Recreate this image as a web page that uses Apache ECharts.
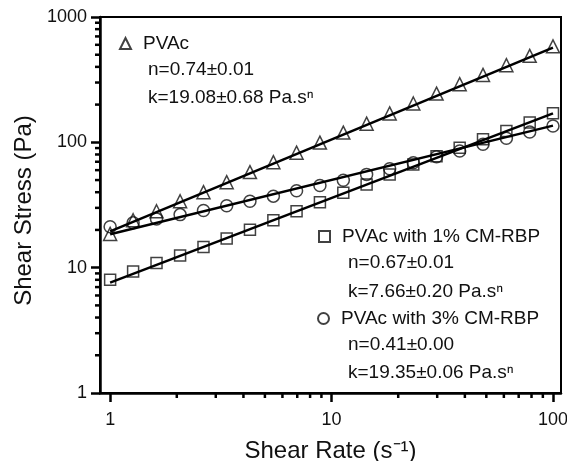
<!DOCTYPE html>
<html><head><meta charset="utf-8">
<script src="https://cdn.jsdelivr.net/npm/echarts@6/dist/echarts.min.js"></script>
<style>html,body{margin:0;padding:0;background:#fff}#c{width:567px;height:461px}</style>
</head><body><div id="c"></div>
<script>
const shearRate = [1, 1.27, 1.62, 2.07, 2.64, 3.36, 4.28, 5.46, 6.95, 8.86, 11.3, 14.4, 18.3, 23.4, 29.8, 37.9, 48.3, 61.6, 78.5, 100];
const stressPVAc = [18.6, 23.9, 28.2, 33.9, 40.0, 48.1, 57.9, 69.5, 82.7, 99.5, 119.6, 141, 170, 204, 245, 291, 345, 413, 490, 583];
const stress1 = [8.02, 9.33, 10.9, 12.5, 14.6, 17.1, 20.1, 23.9, 28.2, 33.3, 39.6, 46.1, 55.5, 66.7, 77.6, 90.7, 105.7, 123, 144, 171];
const stress3 = [21.2, 22.8, 24.5, 26.5, 28.6, 31.2, 33.9, 37.2, 41.1, 45.3, 49.9, 55.5, 61.6, 68.8, 76.8, 85.2, 96.4, 107.7, 120.8, 135];
const fitRate = [1, 100];
const fitPVAc = [19.5, 570];
const fit1 = [7.6, 170];
const fit3 = [18.5, 136];
const xRange = [0.9, 108.7];
const yRange = [1, 1000];
const xMajorTicks = [1, 10, 100];
const xMinorTicks = [2, 3, 4, 5, 6, 7, 8, 9, 20, 30, 40, 50, 60, 70, 80, 90];
const yMajorTicks = [1, 10, 100, 1000];
const yMinorTicks = [2, 3, 4, 5, 6, 7, 8, 9, 20, 30, 40, 50, 60, 70, 80, 90, 200, 300, 400, 500, 600, 700, 800, 900];
const seriesNames = ['PVAc', 'PVAc with 1% CM-RBP', 'PVAc with 3% CM-RBP'];
const annotationLines = ['n=0.74\u00b10.01', 'k=19.08\u00b10.68 Pa.s\u207f', 'n=0.67\u00b10.01', 'k=7.66\u00b10.20 Pa.s\u207f', 'n=0.41\u00b10.00', 'k=19.35\u00b10.06 Pa.s\u207f'];

const FONT = '"Liberation Sans", Arial, Helvetica, sans-serif';
const INK = '#111';
const zip = (xs, ys) => xs.map((x, i) => [x, ys[i]]);

const chart = echarts.init(document.getElementById('c'), null, {renderer: 'canvas'});

const hollow = {color: 'rgba(0,0,0,0)', borderColor: INK, borderWidth: 1.5};
function fitSeries(data) {
  return {type: 'line', data: zip(fitRate, data), showSymbol: false, symbol: 'none', silent: true,
    lineStyle: {color: '#000', width: 2.5}, z: 4, animation: false, legendHoverLink: false};
}
function legendAt(name, left, top) {
  return {data: [name], left: left, top: top, padding: 0, itemWidth: 11, itemHeight: 11, selectedMode: false,
    orient: 'horizontal', textStyle: {fontSize: 19, fontFamily: FONT, color: INK, padding: [0, 0, 0, 7]}};
}
function annot(text, x, y) {
  return {type: 'text', x: x, y: y, silent: true,
    style: {text: text, fontSize: 19, fontFamily: FONT, fill: INK, verticalAlign: 'middle', align: 'left'}};
}
// minor log-axis tick marks, placed through the axes' own scales (outward)
function minorTickSeries(name, values, dim, len) {
  return {
    name: name, type: 'scatter', silent: true, clip: false, z: 6, animation: false, legendHoverLink: false,
    symbol: 'rect',
    symbolSize: dim === 'x' ? [2.5, len] : [len, 2.5],
    symbolOffset: dim === 'x' ? [0, len / 2] : [-len / 2, 0],
    itemStyle: {color: '#000', opacity: 1},
    data: values.map(v => dim === 'x' ? [v, yRange[0]] : [xRange[0], v])
  };
}

const option = {
  backgroundColor: '#fff',
  animation: false,
  grid: {left: 100, right: 6, top: 17, bottom: 68, show: true, borderColor: '#000', borderWidth: 2,
    backgroundColor: 'transparent', containLabel: false, outerBoundsMode: 'none'},
  legend: [
    legendAt(seriesNames[0], 119, 34),
    legendAt(seriesNames[1], 318, 227),
    legendAt(seriesNames[2], 317, 309)
  ],
  xAxis: {type: 'log', logBase: 10, min: xRange[0], max: xRange[1], position: 'bottom',
     axisLine: {show: true, lineStyle: {color: '#000', width: 2.5}},
     axisTick: {show: true, customValues: xMajorTicks, length: 9, inside: false, lineStyle: {color: '#000', width: 2.5}},
     axisLabel: {show: true, customValues: xMajorTicks, formatter: v => String(Math.round(v)), fontSize: 18, fontFamily: FONT, color: INK, margin: 18, showMinLabel: true, showMaxLabel: true},
     splitLine: {show: false}, minorTick: {show: false}, minorSplitLine: {show: false},
     name: 'Shear Rate (s\u207b\u00b9)', nameLocation: 'middle', nameGap: 46,
     nameTextStyle: {fontSize: 24, fontFamily: FONT, color: INK}},
  yAxis: {type: 'log', logBase: 10, min: yRange[0], max: yRange[1], position: 'left',
     axisLine: {show: true, lineStyle: {color: '#000', width: 2.5}},
     axisTick: {show: true, customValues: yMajorTicks, length: 9, inside: false, lineStyle: {color: '#000', width: 2.5}},
     axisLabel: {show: true, customValues: yMajorTicks, formatter: v => String(Math.round(v)), fontSize: 18, fontFamily: FONT, color: INK, margin: 13, showMinLabel: true, showMaxLabel: true},
     splitLine: {show: false}, minorTick: {show: false}, minorSplitLine: {show: false},
     name: 'Shear Stress (Pa)', nameLocation: 'middle', nameGap: 64, nameRotate: 90,
     nameTextStyle: {fontSize: 24, fontFamily: FONT, color: INK, padding: [0, 11, 0, 0]}},
  series: [
    {name: seriesNames[0], type: 'scatter', symbol: 'triangle', symbolSize: 13, data: zip(shearRate, stressPVAc), itemStyle: hollow, z: 3},
    {name: seriesNames[1], type: 'scatter', symbol: 'rect', symbolSize: 11, data: zip(shearRate, stress1), itemStyle: hollow, z: 3},
    {name: seriesNames[2], type: 'scatter', symbol: 'circle', symbolSize: 12, data: zip(shearRate, stress3), itemStyle: hollow, z: 3},
    fitSeries(fitPVAc),
    fitSeries(fit1),
    fitSeries(fit3),
    minorTickSeries('xMinor', xMinorTicks, 'x', 5),
    minorTickSeries('yMinor', yMinorTicks, 'y', 5)
  ],
  graphic: [
    annot(annotationLines[0], 148, 70),
    annot(annotationLines[1], 148, 98),
    annot(annotationLines[2], 348, 263),
    annot(annotationLines[3], 348, 292),
    annot(annotationLines[4], 348, 345),
    annot(annotationLines[5], 348, 373)
  ]
};
chart.setOption(option);
</script>
</body></html>
